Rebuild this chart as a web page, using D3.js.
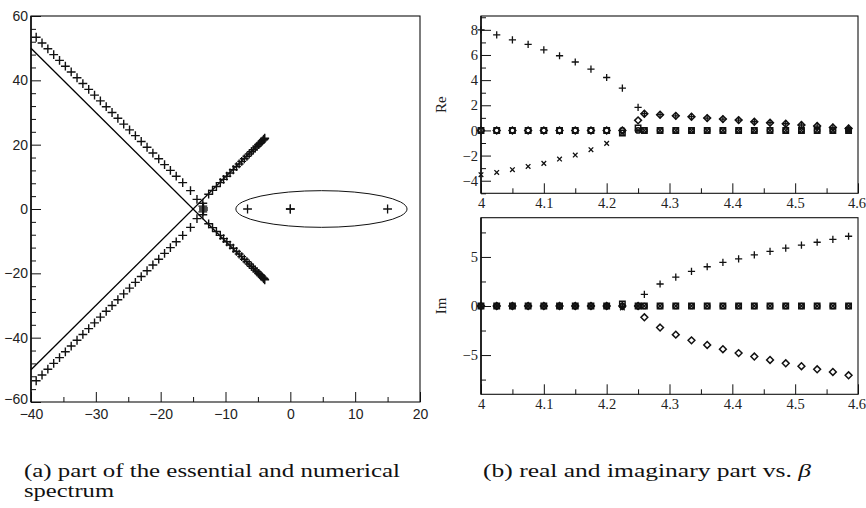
<!DOCTYPE html>
<html>
<head>
<meta charset="utf-8">
<script src="https://cdn.jsdelivr.net/npm/d3@7"></script>
<style>
  body { margin: 0; background: #fff; }
  svg { display: block; }
  .lp text { font-family: "Liberation Sans Narrow", "Liberation Sans", Arial, sans-serif; font-size: 14px; fill: #222; }
  .rp text { font-family: "Liberation Serif", "Times New Roman", serif; font-size: 14.5px; fill: #222; }
  .domain { display: none; }
  .tick line { stroke: #111; }
  .cap { font-family: "Liberation Serif", "Times New Roman", serif; font-size: 18px; fill: #111; }
</style>
</head>
<body>
<svg id="chart" width="866" height="508"></svg>
<script>
// ---- panel (a): spectrum in the complex plane ----
const xTicksA = [-40, -30, -20, -10, 0, 10, 20];
const yTicksA = [-60, -40, -20, 0, 20, 40, 60];

// essential spectrum: two straight rays through (-15, 0)
const essX = [-40, -4];
const essUpY = [50, -22];
const essDownY = [-50, 22];

// numerical eigenvalues, upper-left / lower-left branch
const leftX = [-39.2, -38.3, -37.4, -36.5, -35.6, -34.7, -33.8, -32.9, -32.0, -31.1, -30.2, -29.3, -28.4,
  -27.5, -26.6, -25.7, -24.8, -23.9, -23.0, -22.1, -21.2, -20.3, -19.4, -18.5, -17.6, -16.6, -15.4, -14.4];
const leftY = [53.4, 51.6, 49.8, 48.0, 46.2, 44.4, 42.6, 40.8, 39.0, 37.2, 35.4, 33.6, 31.8,
  30.0, 28.2, 26.4, 24.6, 22.8, 21.0, 19.2, 17.4, 15.6, 13.8, 12.0, 10.2, 8.2, 5.7, 3.0];
// cluster near the crossing
const midX = [-13.5, -13.5, -13.4, -13.4, -13.5, -13.5];
const midY = [1.8, 0.9, 0.3, -0.3, -0.9, -1.8];
// right branches (close to the rays)
const rightX = [-12.6, -12.0, -11.4, -10.8, -10.3, -9.8, -9.3, -8.8, -8.3, -7.9, -7.5, -7.1, -6.7,
  -6.35, -6.0, -5.7, -5.4, -5.15, -4.9, -4.7, -4.5, -4.35, -4.2, -4.1, -4.0, -3.95];
const rightY = [4.6, 5.8, 7.0, 8.2, 9.2, 10.2, 11.2, 12.2, 13.2, 14.0, 14.8, 15.6, 16.4,
  17.1, 17.8, 18.4, 19.0, 19.5, 20.0, 20.4, 20.8, 21.1, 21.4, 21.6, 21.8, 22.0];
// isolated eigenvalues inside the ellipse
const isoX = [-6.6, 0, 0, 15];
const isoY = [0, 0, 0, 0];
const ellipseC = [4.8, 0], ellipseR = [13.2, 5.7];

// ---- panel (b): real and imaginary parts vs beta ----
const beta = [4.0, 4.025, 4.05, 4.075, 4.1, 4.125, 4.15, 4.175, 4.2, 4.225, 4.25, 4.26, 4.285,
  4.31, 4.335, 4.36, 4.385, 4.41, 4.435, 4.46, 4.485, 4.51, 4.535, 4.56, 4.585];
const xTicksB = [4, 4.1, 4.2, 4.3, 4.4, 4.5, 4.6];
const reTicks = [-4, -2, 0, 2, 4, 6, 8];
const imTicks = [-5, 0, 5];

const rePlus = [8.0, 7.6, 7.2, 6.84, 6.41, 5.94, 5.44, 4.88, 4.21, 3.37, 1.83, 1.33, 1.25,
  1.16, 1.09, 0.98, 0.9, 0.82, 0.69, 0.61, 0.53, 0.43, 0.35, 0.24, 0.16];
const reDiamond = [0, 0, 0, 0, 0, 0, 0, 0, 0, 0, 0.8, 1.33, 1.25,
  1.16, 1.09, 0.98, 0.9, 0.82, 0.69, 0.61, 0.53, 0.43, 0.35, 0.24, 0.16];
const reCross = [-3.52, -3.34, -3.12, -2.86, -2.62, -2.28, -1.96, -1.53, -1.03, -0.21, 0, 0, 0,
  0, 0, 0, 0, 0, 0, 0, 0, 0, 0, 0, 0];
const reSquare = [0, 0, 0, 0, 0, 0, 0, 0, 0, -0.2, 0.2, 0, 0,
  0, 0, 0, 0, 0, 0, 0, 0, 0, 0, 0, 0];
const reCircle = [0, 0, 0, 0, 0, 0, 0, 0, 0, 0, 0, 0, 0,
  0, 0, 0, 0, 0, 0, 0, 0, 0, 0, 0, 0];

const imPlus = [0, 0, 0, 0, 0, 0, 0, 0, 0, 0, 0, 1.19, 2.24,
  2.95, 3.52, 4.0, 4.44, 4.81, 5.22, 5.56, 5.9, 6.2, 6.5, 6.8, 7.11];
const imDiamond = [0, 0, 0, 0, 0, 0, 0, 0, 0, 0, 0, -1.15, -2.2,
  -2.92, -3.5, -3.97, -4.4, -4.8, -5.15, -5.5, -5.84, -6.14, -6.45, -6.72, -7.06];
const imCross = [0, 0, 0, 0, 0, 0, 0, 0, 0, -0.2, 0, 0, 0,
  0, 0, 0, 0, 0, 0, 0, 0, 0, 0, 0, 0];
const imSquare = [0, 0, 0, 0, 0, 0, 0, 0, 0, 0.2, 0, 0, 0,
  0, 0, 0, 0, 0, 0, 0, 0, 0, 0, 0, 0];
const imCircle = [0, 0, 0, 0, 0, 0, 0, 0, 0, 0, 0, 0, 0,
  0, 0, 0, 0, 0, 0, 0, 0, 0, 0, 0, 0];

// marker shapes
const shapes = {
  plus: s => `M${-s},0H${s}M0,${-s}V${s}`,
  cross: s => `M${-s},${-s}L${s},${s}M${-s},${s}L${s},${-s}`,
  square: s => `M${-s},${-s}H${s}V${s}H${-s}Z`,
  diamond: s => `M0,${-s}L${s},0L0,${s}L${-s},0Z`,
  circle: s => `M${-s},0A${s},${s} 0 1,0 ${s},0A${s},${s} 0 1,0 ${-s},0Z`
};

const svg = d3.select("#chart");

function drawMarkers(g, xs, ys, x, y, shape, size, sw, col) {
  g.append("g").selectAll("path")
    .data(d3.zip(xs, ys))
    .join("path")
    .attr("transform", d => `translate(${x(d[0])},${y(d[1])})`)
    .attr("d", shapes[shape](size))
    .attr("fill", "none")
    .attr("stroke", col || "#111")
    .attr("stroke-width", sw);
}

function frameAxes(g, x, y, xMajor, xMinor, yMajor, yMinor, fmtX, pad) {
  const [x0, x1] = x.range(), [y0, y1] = y.range();
  g.append("g").attr("transform", `translate(0,${y0})`)
    .call(d3.axisBottom(x).tickValues(xMinor).tickSize(-5).tickSizeOuter(0).tickFormat(""));
  const xAx = g.append("g").attr("transform", `translate(0,${y0})`)
    .call(d3.axisBottom(x).tickValues(xMajor).tickSize(-10).tickSizeOuter(0).tickPadding(pad).tickFormat(fmtX));
  g.append("g").attr("transform", `translate(${x0},0)`)
    .call(d3.axisLeft(y).tickValues(yMinor).tickSize(-5).tickSizeOuter(0).tickFormat(""));
  const yAx = g.append("g").attr("transform", `translate(${x0},0)`)
    .call(d3.axisLeft(y).tickValues(yMajor).tickSize(-10).tickSizeOuter(0).tickPadding(3));
  g.append("rect")
    .attr("x", x0).attr("y", y1)
    .attr("width", x1 - x0).attr("height", y0 - y1)
    .attr("fill", "none").attr("stroke", "#111").attr("stroke-width", 1.1);
  g.append("line")
    .attr("x1", x0).attr("x2", x0).attr("y1", y1).attr("y2", y0)
    .attr("stroke", "#111").attr("stroke-width", 1.6);
  return { xAx, yAx };
}

// ---------- panel (a) ----------
const ga = svg.append("g").attr("class", "lp");
const xa = d3.scaleLinear().domain([-40, 20]).range([31, 420]);
const ya = d3.scaleLinear().domain([-60, 60]).range([402, 16]);

const axA = frameAxes(ga, xa, ya, xTicksA, d3.range(-35, 20, 10), yTicksA,
  d3.range(-56, 60, 4).filter(v => v % 20 !== 0), d3.format("d"), 7);
// lowest y label sits a little above the corner, as in the original
axA.yAx.selectAll(".tick text").filter(d => d === -60).attr("dy", "0.1em");

const line = d3.line().x(d => xa(d[0])).y(d => ya(d[1]));
ga.append("path").datum(d3.zip(essX, essUpY)).attr("d", line)
  .attr("fill", "none").attr("stroke", "#000").attr("stroke-width", 1.3);
ga.append("path").datum(d3.zip(essX, essDownY)).attr("d", line)
  .attr("fill", "none").attr("stroke", "#000").attr("stroke-width", 1.3);

ga.append("ellipse")
  .attr("cx", xa(ellipseC[0])).attr("cy", ya(ellipseC[1]))
  .attr("rx", xa(ellipseC[0] + ellipseR[0]) - xa(ellipseC[0]))
  .attr("ry", ya(ellipseC[1]) - ya(ellipseC[1] + ellipseR[1]))
  .attr("fill", "none").attr("stroke", "#111").attr("stroke-width", 1);

const negate = a => a.map(v => -v);
drawMarkers(ga, leftX, leftY, xa, ya, "plus", 4.4, 1.4, "#111");
drawMarkers(ga, leftX, negate(leftY), xa, ya, "plus", 4.4, 1.4, "#111");
drawMarkers(ga, midX, midY, xa, ya, "plus", 4.4, 1.4, "#111");
drawMarkers(ga, rightX, rightY, xa, ya, "plus", 4.4, 1.4, "#111");
drawMarkers(ga, rightX, negate(rightY), xa, ya, "plus", 4.4, 1.4, "#111");
drawMarkers(ga, isoX, isoY, xa, ya, "plus", 4.4, 1.3, "#111");

// ---------- panel (b) ----------
const gb = svg.append("g").attr("class", "rp");
const xb = d3.scaleLinear().domain([4, 4.6]).range([481, 858]);
const yRe = d3.scaleLinear().domain([-5, 9.1]).range([193.3, 16]);
const yIm = d3.scaleLinear().domain([-9, 9]).range([394.3, 217.7]);
const fmtB = d => d3.format("")(+d.toFixed(1));
const xMinorB = [4.05, 4.15, 4.25, 4.35, 4.45, 4.55];

const gRe = gb.append("g");
const axRe = frameAxes(gRe, xb, yRe, xTicksB, xMinorB, reTicks, [-5, -3, -1, 1, 3, 5, 7, 9], fmtB, 4);
const gIm = gb.append("g");
const axIm = frameAxes(gIm, xb, yIm, xTicksB, xMinorB, imTicks, [-7.5, -2.5, 2.5, 7.5], fmtB, 4);
// keep the last x label inside the page
[axRe, axIm].forEach(a => a.xAx.selectAll(".tick text").filter(d => d === 4.6)
  .attr("text-anchor", "end").attr("x", 7.5));

gb.append("text").attr("transform", `translate(446,${(yRe.range()[0] + yRe.range()[1]) / 2}) rotate(-90)`)
  .attr("text-anchor", "middle").style("font-size", "15px").text("Re");
gb.append("text").attr("transform", `translate(446,${(yIm.range()[0] + yIm.range()[1]) / 2}) rotate(-90)`)
  .attr("text-anchor", "middle").style("font-size", "15px").text("Im");

function series(g, y, plusV, crossV, diamondV, squareV, circleV) {
  drawMarkers(g, beta, circleV, xb, y, "circle", 2.6, 1.5);
  drawMarkers(g, beta, squareV, xb, y, "square", 2.7, 1.5);
  drawMarkers(g, beta, diamondV, xb, y, "diamond", 3.4, 1.5);
  drawMarkers(g, beta, crossV, xb, y, "cross", 2.3, 1.3);
  drawMarkers(g, beta, plusV, xb, y, "plus", 3.6, 1.3);
}
series(gRe, yRe, rePlus, reCross, reDiamond, reSquare, reCircle);
series(gIm, yIm, imPlus, imCross, imDiamond, imSquare, imCircle);

// ---------- captions ----------
svg.append("text").attr("class", "cap").attr("x", 24).attr("y", 477)
  .attr("textLength", 376).attr("lengthAdjust", "spacingAndGlyphs")
  .text("(a) part of the essential and numerical");
svg.append("text").attr("class", "cap").attr("x", 24).attr("y", 497)
  .attr("textLength", 90).attr("lengthAdjust", "spacingAndGlyphs")
  .text("spectrum");
const capB = svg.append("text").attr("class", "cap").attr("x", 483).attr("y", 477)
  .attr("textLength", 328).attr("lengthAdjust", "spacingAndGlyphs");
capB.append("tspan").text("(b) real and imaginary part vs. ");
capB.append("tspan").style("font-style", "italic").text("β");
</script>
</body>
</html>
